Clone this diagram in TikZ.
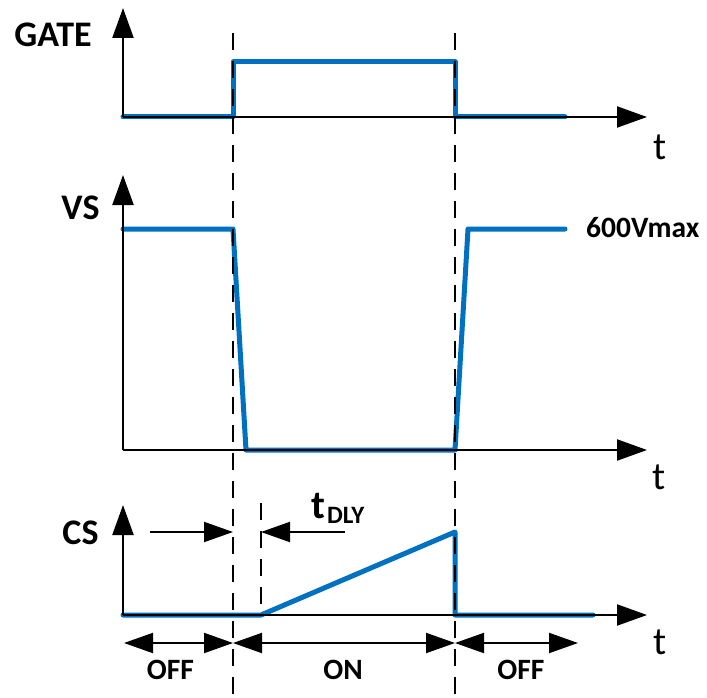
\documentclass[tikz,border=0pt]{standalone}
\usepackage{fontspec}
\setmainfont{Carlito}
\usetikzlibrary{arrows.meta}
\definecolor{wavecol}{HTML}{0070C0}
\begin{document}
\begin{tikzpicture}[x=1pt,y=-1pt,
  axis/.style={line width=2.2pt,-{Triangle[length=30pt,width=21pt]}},
  wavel/.style={line width=5pt,draw=wavecol,line cap=round,line join=round},
  guide/.style={line width=2.4pt,dash pattern=on 17pt off 11pt},
  dimarr/.style={line width=2pt,{Triangle[length=29pt,width=20pt]}-{Triangle[length=29pt,width=20pt]}},
  onearr/.style={line width=2pt,-{Triangle[length=29pt,width=20pt]}},
  lbl/.style={inner sep=0pt,font=\bfseries\fontsize{36}{40}\selectfont},
  small/.style={inner sep=0pt,font=\bfseries\fontsize{29.5}{32}\selectfont},
  tl/.style={inner sep=0pt,font=\fontsize{39}{42}\selectfont}]
\useasboundingbox (0,0) rectangle (707,698);
% coordinates
\coordinate (g0) at (123,117); \coordinate (gy) at (123,8); \coordinate (gx) at (647,117);
\coordinate (v0) at (123,450); \coordinate (vy) at (123,175); \coordinate (vx) at (647,450);
\coordinate (c0) at (123,615); \coordinate (cy) at (123,505); \coordinate (cx) at (647,615);
% waves
\draw[wavel] (123,117) -- (233,117) -- (233,62) -- (455,62) -- (455,117) -- (565,117);
\draw[wavel] (123,229) -- (233,229) -- (246,450) -- (455,450) -- (468,229) -- (565,229);
\draw[wavel] (123,615) -- (261,615) -- (455,532) -- (455,615) -- (593,615);
% guides
\coordinate (d1t) at (233,33); \coordinate (d1b) at (233,698);
\coordinate (d2t) at (455,33); \coordinate (d2b) at (455,698);
\coordinate (d3t) at (261,503); \coordinate (d3b) at (261,606);
\draw[guide] (d1t) -- (d1b);
\draw[guide] (d2t) -- (d2b);
\draw[guide] (d3t) -- (d3b);
% axes
\draw[axis] (g0) -- (gy); \draw[axis] (g0) -- (gx);
\draw[axis] (v0) -- (vy); \draw[axis] (v0) -- (vx);
\draw[axis] (c0) -- (cy); \draw[axis] (c0) -- (cx);
% tDLY arrows
\coordinate (a1s) at (150,532); \coordinate (a1e) at (233,532);
\coordinate (a2s) at (345,532); \coordinate (a2e) at (261,532);
\draw[onearr] (a1s) -- (a1e);
\draw[onearr] (a2s) -- (a2e);
\node[inner sep=0pt,anchor=base west,font=\bfseries\fontsize{40}{42}\selectfont] (tdly) at (311,518) {t};
\node[inner sep=0pt,anchor=base west,font=\bfseries\fontsize{25}{28}\selectfont] (dly) at (327,523) {DLY};
% bottom dims
\coordinate (b0) at (124,643); \coordinate (b1) at (233,643); \coordinate (b2) at (455,643); \coordinate (b3) at (578,643);
\draw[dimarr] (b0) -- (b1);
\draw[dimarr] (b1) -- (b2);
\draw[dimarr] (b2) -- (b3);
% labels
\node[lbl] (gate) at (53,34.5) {GATE};
\node[lbl] (vs) at (80.5,208) {VS};
\node[lbl] (cs) at (80.5,533) {CS};
\node[small,anchor=west] (vmax) at (586,228) {600Vmax};
\node[tl] (t1) at (660,147) {t};
\node[tl] (t2) at (659,477) {t};
\node[tl] (t3) at (660,642) {t};
\node[small] (off1) at (170.5,670) {OFF};
\node[small] (on) at (343,670) {ON};
\node[small] (off2) at (521,670) {OFF};
\end{tikzpicture}
\end{document}
